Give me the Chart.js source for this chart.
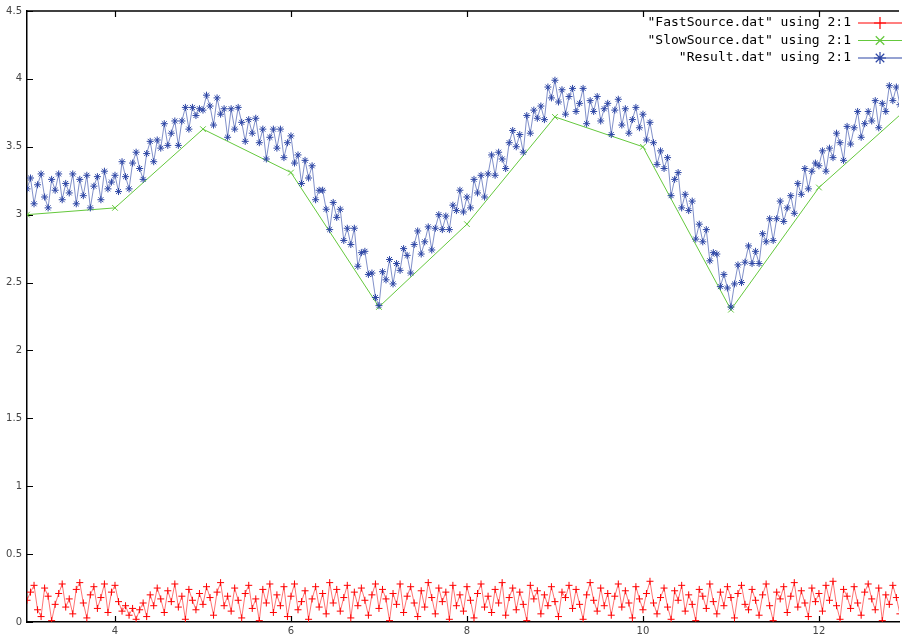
<!DOCTYPE html>
<html>
<head>
<meta charset="utf-8">
<script src="https://cdn.jsdelivr.net/npm/chart.js@4.4.1/dist/chart.umd.min.js"></script>
<style>
  html, body { margin: 0; padding: 0; background: #fff; }
  #plot { display: block; }
</style>
</head>
<body>
<canvas id="plot" width="904" height="637"></canvas>
<script>
// sample times (column 2 of the .dat files)
var times = [
  3, 3.04, 3.08, 3.12, 3.16, 3.2, 3.24, 3.28, 3.32, 3.36, 3.4, 3.44, 3.48, 3.52, 3.56, 3.6, 3.64, 3.68, 3.72, 3.76, 3.8, 3.84, 3.88, 3.92, 3.96,
  4, 4.04, 4.08, 4.12, 4.16, 4.2, 4.24, 4.28, 4.32, 4.36, 4.4, 4.44, 4.48, 4.52, 4.56, 4.6, 4.64, 4.68, 4.72, 4.76, 4.8, 4.84, 4.88, 4.92, 4.96,
  5, 5.04, 5.08, 5.12, 5.16, 5.2, 5.24, 5.28, 5.32, 5.36, 5.4, 5.44, 5.48, 5.52, 5.56, 5.6, 5.64, 5.68, 5.72, 5.76, 5.8, 5.84, 5.88, 5.92, 5.96,
  6, 6.04, 6.08, 6.12, 6.16, 6.2, 6.24, 6.28, 6.32, 6.36, 6.4, 6.44, 6.48, 6.52, 6.56, 6.6, 6.64, 6.68, 6.72, 6.76, 6.8, 6.84, 6.88, 6.92, 6.96,
  7, 7.04, 7.08, 7.12, 7.16, 7.2, 7.24, 7.28, 7.32, 7.36, 7.4, 7.44, 7.48, 7.52, 7.56, 7.6, 7.64, 7.68, 7.72, 7.76, 7.8, 7.84, 7.88, 7.92, 7.96,
  8, 8.04, 8.08, 8.12, 8.16, 8.2, 8.24, 8.28, 8.32, 8.36, 8.4, 8.44, 8.48, 8.52, 8.56, 8.6, 8.64, 8.68, 8.72, 8.76, 8.8, 8.84, 8.88, 8.92, 8.96,
  9, 9.04, 9.08, 9.12, 9.16, 9.2, 9.24, 9.28, 9.32, 9.36, 9.4, 9.44, 9.48, 9.52, 9.56, 9.6, 9.64, 9.68, 9.72, 9.76, 9.8, 9.84, 9.88, 9.92, 9.96,
  10, 10.04, 10.08, 10.12, 10.16, 10.2, 10.24, 10.28, 10.32, 10.36, 10.4, 10.44, 10.48, 10.52, 10.56, 10.6, 10.64, 10.68, 10.72, 10.76, 10.8, 10.84, 10.88, 10.92, 10.96,
  11, 11.04, 11.08, 11.12, 11.16, 11.2, 11.24, 11.28, 11.32, 11.36, 11.4, 11.44, 11.48, 11.52, 11.56, 11.6, 11.64, 11.68, 11.72, 11.76, 11.8, 11.84, 11.88, 11.92, 11.96,
  12, 12.04, 12.08, 12.12, 12.16, 12.2, 12.24, 12.28, 12.32, 12.36, 12.4, 12.44, 12.48, 12.52, 12.56, 12.6, 12.64, 12.68, 12.72, 12.76, 12.8, 12.84, 12.88, 12.92, 12.96,
  13
];

// FastSource.dat (red, noisy 0 .. 0.3)
var fastValues = [
  0.16, 0.22, 0.27, 0.09, 0.04, 0.25, 0.19, 0.01, 0.13, 0.21, 0.28, 0.11, 0.17, 0.06, 0.24, 0.29, 0.14, 0.03, 0.20, 0.26, 0.10, 0.18, 0.28, 0.07, 0.22,
  0.27, 0.15, 0.08, 0.12, 0.05, 0.10, 0.02, 0.09, 0.14, 0.04, 0.20, 0.12, 0.25, 0.17, 0.07, 0.23, 0.15, 0.28, 0.11, 0.19, 0.02, 0.24, 0.16, 0.09, 0.21,
  0.13, 0.26, 0.18, 0.05, 0.22, 0.29, 0.12, 0.19, 0.08, 0.25, 0.16, 0.03, 0.21, 0.27, 0.10, 0.17, 0.01, 0.24, 0.14, 0.28, 0.07, 0.20, 0.12, 0.26, 0.04,
  0.19, 0.28, 0.09, 0.15, 0.23, 0.02, 0.17, 0.26, 0.11, 0.21, 0.06, 0.29, 0.14, 0.24, 0.08, 0.18, 0.27, 0.03, 0.22, 0.12, 0.25, 0.16, 0.05, 0.20, 0.28,
  0.10, 0.24, 0.17, 0.01, 0.21, 0.13, 0.28, 0.07, 0.19, 0.26, 0.14, 0.04, 0.23, 0.11, 0.29, 0.18, 0.06, 0.25, 0.15, 0.22, 0.02, 0.27, 0.12, 0.20, 0.08,
  0.26, 0.16, 0.03, 0.21, 0.28, 0.11, 0.19, 0.07, 0.24, 0.14, 0.29, 0.05, 0.18, 0.25, 0.09, 0.22, 0.13, 0.01, 0.27, 0.17, 0.23, 0.06, 0.20, 0.12, 0.26,
  0.15, 0.04, 0.22, 0.18, 0.27, 0.10, 0.24, 0.13, 0.02, 0.20, 0.29, 0.16, 0.08, 0.25, 0.12, 0.21, 0.05, 0.19, 0.28, 0.11, 0.23, 0.14, 0.03, 0.26, 0.17,
  0.09, 0.21, 0.30, 0.14, 0.06, 0.18, 0.25, 0.11, 0.02, 0.23, 0.16, 0.27, 0.08, 0.20, 0.13, 0.01, 0.24, 0.19, 0.10, 0.28, 0.15, 0.06, 0.22, 0.12, 0.26,
  0.18, 0.03, 0.21, 0.27, 0.13, 0.09, 0.24, 0.16, 0.05, 0.20, 0.28, 0.12, 0.01, 0.22, 0.17, 0.26, 0.07, 0.19, 0.29, 0.11, 0.23, 0.14, 0.04, 0.25, 0.15,
  0.21, 0.08, 0.27, 0.16, 0.30, 0.12, 0.02, 0.24, 0.19, 0.10, 0.26, 0.14, 0.05, 0.22, 0.28, 0.17, 0.09, 0.25, 0.01, 0.20, 0.13, 0.27, 0.18, 0.06, 0.23,
  0.15
];

// SlowSource.dat (green, one sample per time unit)
var slowTimes = [3, 4, 5, 6, 7, 8, 9, 10, 11, 12, 13];
var slowValues = [3.00, 3.05, 3.63, 3.31, 2.32, 2.93, 3.72, 3.50, 2.30, 3.20, 3.78];

// Result.dat (blue)
var resultValues = [
  3.19, 3.27, 3.08, 3.22, 3.30, 3.13, 3.05, 3.26, 3.18, 3.30, 3.11, 3.23, 3.16, 3.30, 3.08, 3.26, 3.14, 3.29, 3.05, 3.21, 3.28, 3.11, 3.32, 3.19, 3.24,
  3.29, 3.17, 3.39, 3.28, 3.19, 3.38, 3.46, 3.34, 3.26, 3.45, 3.54, 3.39, 3.55, 3.49, 3.67, 3.51, 3.60, 3.69, 3.51, 3.69, 3.79, 3.63, 3.79, 3.73, 3.78,
  3.77, 3.88, 3.80, 3.66, 3.86, 3.74, 3.78, 3.57, 3.78, 3.63, 3.79, 3.68, 3.54, 3.70, 3.60, 3.71, 3.53, 3.63, 3.41, 3.57, 3.63, 3.49, 3.63, 3.42, 3.53,
  3.58, 3.38, 3.44, 3.23, 3.40, 3.27, 3.36, 3.11, 3.18, 3.18, 3.04, 2.89, 3.09, 2.98, 3.04, 2.81, 2.90, 2.78, 2.90, 2.62, 2.72, 2.73, 2.56, 2.57, 2.39,
  2.33, 2.58, 2.52, 2.67, 2.49, 2.64, 2.59, 2.75, 2.70, 2.57, 2.78, 2.88, 2.71, 2.80, 2.91, 2.74, 2.90, 3.00, 2.89, 2.99, 2.89, 3.07, 3.03, 3.18, 3.02,
  3.13, 3.05, 3.26, 3.16, 3.29, 3.13, 3.30, 3.44, 3.29, 3.46, 3.41, 3.34, 3.53, 3.62, 3.50, 3.59, 3.46, 3.73, 3.60, 3.77, 3.71, 3.80, 3.70, 3.94, 3.86,
  3.99, 3.83, 3.92, 3.74, 3.87, 3.93, 3.76, 3.82, 3.93, 3.67, 3.84, 3.76, 3.87, 3.69, 3.78, 3.82, 3.59, 3.77, 3.85, 3.66, 3.78, 3.60, 3.70, 3.79, 3.64,
  3.74, 3.55, 3.68, 3.53, 3.37, 3.47, 3.34, 3.42, 3.14, 3.26, 3.31, 3.05, 3.15, 3.03, 3.10, 2.82, 2.93, 2.80, 2.89, 2.66, 2.72, 2.71, 2.47, 2.56, 2.46,
  2.32, 2.49, 2.63, 2.50, 2.65, 2.77, 2.64, 2.73, 2.64, 2.86, 2.80, 2.97, 2.81, 2.97, 3.10, 2.95, 3.05, 3.14, 3.01, 3.23, 3.15, 3.34, 3.19, 3.32, 3.38,
  3.36, 3.47, 3.32, 3.49, 3.42, 3.60, 3.53, 3.40, 3.65, 3.52, 3.64, 3.76, 3.57, 3.67, 3.76, 3.69, 3.84, 3.64, 3.82, 3.76, 3.95, 3.84, 3.94, 3.81, 3.94,
  3.93
];

var seriesLabels = ['"FastSource.dat" using 2:1', '"SlowSource.dat" using 2:1', '"Result.dat" using 2:1'];
var seriesColors = ['rgb(255,0,0)', 'rgb(100,200,60)', 'rgb(45,70,165)'];
var xTickValues = [4, 6, 8, 10, 12];
var yTickValues = [0, 0.5, 1, 1.5, 2, 2.5, 3, 3.5, 4, 4.5];

function pairs(xs, ys) {
    var out = [];
    for (var i = 0; i < ys.length; i++) out.push({ x: xs[i], y: ys[i] });
    return out;
}

// gnuplot style frame: top border plus inward tick marks
var framePlugin = {
    id: 'frame',
    beforeDatasetsDraw: function (chart) {
        var ctx = chart.ctx, a = chart.chartArea;
        var xs = chart.scales.x, ys = chart.scales.y;
        ctx.save();
        ctx.strokeStyle = '#000';
        ctx.lineWidth = 1.5;
        ctx.beginPath();
        ctx.moveTo(a.left, a.top);
        ctx.lineTo(a.right, a.top);
        ctx.stroke();
        ctx.lineWidth = 1.2;
        ctx.beginPath();
        yTickValues.forEach(function (v) {
            var py = Math.round(ys.getPixelForValue(v)) + 0.5;
            ctx.moveTo(a.left, py);
            ctx.lineTo(a.left + 6, py);
        });
        xTickValues.forEach(function (v) {
            var px = Math.round(xs.getPixelForValue(v)) + 0.5;
            ctx.moveTo(px, a.bottom);
            ctx.lineTo(px, a.bottom - 6);
            ctx.moveTo(px, a.top);
            ctx.lineTo(px, a.top + 6);
        });
        ctx.stroke();
        ctx.restore();
    }
};

// legend in the top right corner, text right aligned, sample on the right
var keyPlugin = {
    id: 'key',
    afterDraw: function (chart) {
        var ctx = chart.ctx;
        ctx.save();
        ctx.font = '13px "DejaVu Sans Mono", "Liberation Mono", monospace';
        ctx.textAlign = 'right';
        ctx.textBaseline = 'middle';
        chart.data.datasets.forEach(function (ds, i) {
            var y = 23 + i * 17.5;
            ctx.fillStyle = '#000';
            ctx.fillText(ds.label, 851, y);
            ctx.strokeStyle = seriesColors[i];
            ctx.lineWidth = 1.2;
            ctx.beginPath();
            ctx.moveTo(858, y);
            ctx.lineTo(902, y);
            ctx.stroke();
            Chart.helpers.drawPoint(ctx, { pointStyle: ds.pointStyle, radius: 6, rotation: 0, borderWidth: 1.2 }, 880, y);
        });
        ctx.restore();
    }
};

var ctx = document.getElementById('plot');

new Chart(ctx, {
    type: 'line',
    data: {
        datasets: [
            {
                label: seriesLabels[0],
                data: pairs(times, fastValues),
                borderColor: 'rgba(255,0,0,0.55)',
                pointBorderColor: seriesColors[0],
                backgroundColor: seriesColors[0],
                borderWidth: 1,
                pointStyle: 'cross',
                pointRadius: 3.5,
                pointBorderWidth: 1,
                order: 3
            },
            {
                label: seriesLabels[1],
                data: pairs(slowTimes, slowValues),
                borderColor: seriesColors[1],
                pointBorderColor: seriesColors[1],
                backgroundColor: seriesColors[1],
                borderWidth: 1,
                pointStyle: 'crossRot',
                pointRadius: 4,
                pointBorderWidth: 1,
                order: 2
            },
            {
                label: seriesLabels[2],
                data: pairs(times, resultValues),
                borderColor: 'rgba(45,70,165,0.6)',
                pointBorderColor: seriesColors[2],
                backgroundColor: seriesColors[2],
                borderWidth: 1,
                pointStyle: 'star',
                pointRadius: 3.5,
                pointBorderWidth: 1,
                order: 1
            }
        ]
    },
    options: {
        responsive: false,
        animation: false,
        devicePixelRatio: 1,
        layout: { padding: { top: 10, right: 0, left: 0, bottom: 0 } },
        plugins: {
            legend: { display: false },
            tooltip: { enabled: false }
        },
        elements: { line: { tension: 0 } },
        scales: {
            x: {
                type: 'linear',
                min: 3,
                max: 12.91,
                afterBuildTicks: function (s) {
                    s.ticks = xTickValues.map(function (v) { return { value: v }; });
                },
                afterFit: function (s) { s.height = 15; },
                ticks: {
                    color: '#444',
                    font: { family: 'DejaVu Sans', size: 10 },
                    padding: 3,
                    maxRotation: 0,
                    callback: function (v) { return String(v); }
                },
                grid: { display: false, drawTicks: false },
                border: { display: true, color: '#000', width: 1.5 }
            },
            y: {
                type: 'linear',
                min: 0,
                max: 4.5,
                afterBuildTicks: function (s) {
                    s.ticks = yTickValues.map(function (v) { return { value: v }; });
                },
                afterFit: function (s) { s.width = 27; },
                ticks: {
                    color: '#444',
                    font: { family: 'DejaVu Sans', size: 10 },
                    padding: 5,
                    callback: function (v) { return String(v); }
                },
                grid: { display: false, drawTicks: false },
                border: { display: true, color: '#000', width: 1.5 }
            }
        }
    },
    plugins: [framePlugin, keyPlugin]
});
</script>
</body>
</html>
